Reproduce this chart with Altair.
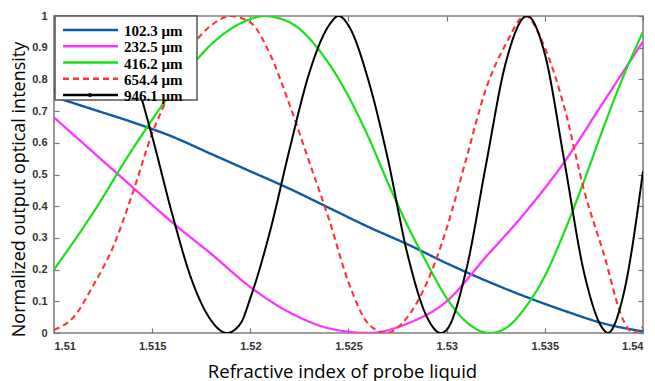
import altair as alt
import pandas as pd

# ---- data ----
labels = ["102.3 μm", "232.5 μm", "416.2 μm", "654.4 μm", "946.1 μm"]
colors = ["#0b5aa6", "#ff33ff", "#19e019", "#ff3333", "#000000"]
dashes = [[1, 0], [1, 0], [1, 0], [6, 4], [1, 0]]
widths = [2.4, 2.0, 2.2, 2.0, 2.8]

blue_x = [1.510, 1.512, 1.514, 1.516, 1.518, 1.520, 1.522, 1.524, 1.526, 1.528,
          1.530, 1.532, 1.534, 1.536, 1.538, 1.540]
blue_y = [0.745, 0.705, 0.665, 0.62, 0.565, 0.51, 0.455, 0.395, 0.335, 0.28,
          0.22, 0.165, 0.115, 0.07, 0.03, 0.005]

pink_x = [1.510, 1.512, 1.514, 1.516, 1.518, 1.520, 1.522, 1.524, 1.526, 1.528,
          1.530, 1.532, 1.534, 1.536, 1.538, 1.540]
pink_y = [0.68, 0.57, 0.46, 0.35, 0.25, 0.145, 0.065, 0.015, 0.0, 0.03,
          0.10, 0.24, 0.38, 0.54, 0.73, 0.92]

green_x = [1.510, 1.512, 1.514, 1.516, 1.518, 1.520, 1.5207, 1.522, 1.524, 1.526,
           1.527, 1.528, 1.529, 1.530, 1.531, 1.5322, 1.533, 1.534, 1.535, 1.536,
           1.537, 1.538, 1.539, 1.540]
green_y = [0.20, 0.38, 0.58, 0.76, 0.91, 0.99, 1.0, 0.98, 0.85, 0.62,
           0.475, 0.34, 0.22, 0.11, 0.035, 0.0, 0.015, 0.08, 0.18, 0.32,
           0.48, 0.65, 0.81, 0.95]

red_x = [1.510, 1.511, 1.512, 1.513, 1.514, 1.515, 1.516, 1.517, 1.518, 1.519,
         1.520, 1.521, 1.522, 1.523, 1.524, 1.525, 1.526, 1.5269, 1.528, 1.529,
         1.530, 1.531, 1.532, 1.533, 1.534, 1.535, 1.536, 1.537, 1.538, 1.539,
         1.5395, 1.540]
red_y = [0.01, 0.05, 0.15, 0.27, 0.44, 0.63, 0.77, 0.90, 0.97, 1.0,
         0.98, 0.88, 0.72, 0.54, 0.36, 0.16, 0.03, 0.0, 0.05, 0.16,
         0.33, 0.55, 0.77, 0.91, 1.0, 0.90, 0.71, 0.45, 0.25, 0.04,
         0.0, 0.02]

black_x = [1.5100, 1.5110, 1.5122, 1.5130, 1.5140, 1.5150, 1.5160, 1.5170, 1.5180, 1.5188,
           1.5195, 1.5200, 1.5210, 1.5220, 1.5230, 1.5240, 1.5245, 1.5250, 1.5260, 1.5270,
           1.5280, 1.5290, 1.5297, 1.5300, 1.5310, 1.5320, 1.5330, 1.5341, 1.5350, 1.5360,
           1.5370, 1.5380, 1.5382, 1.5390, 1.5400]
black_y = [0.76, 0.92, 1.00, 0.96, 0.83, 0.62, 0.38, 0.17, 0.04, 0.00,
           0.03, 0.11, 0.32, 0.58, 0.82, 0.97, 1.00, 0.97, 0.80, 0.55,
           0.25, 0.05, 0.00, 0.01, 0.20, 0.53, 0.85, 1.00, 0.88, 0.54,
           0.19, 0.01, 0.00, 0.12, 0.51]

x_ticks = [1.51, 1.515, 1.52, 1.525, 1.53, 1.535, 1.54]
y_ticks = [0, 0.1, 0.2, 0.3, 0.4, 0.5, 0.6, 0.7, 0.8, 0.9, 1]

series = [(blue_x, blue_y), (pink_x, pink_y), (green_x, green_y), (red_x, red_y), (black_x, black_y)]
rows = []
for lab, (xs, ys) in zip(labels, series):
    for i, (xv, yv) in enumerate(zip(xs, ys)):
        rows.append({"n": xv, "I": yv, "s": lab, "o": i})
df = pd.DataFrame(rows)

xscale = alt.Scale(domain=[1.51, 1.54], nice=False, zero=False)
yscale = alt.Scale(domain=[0, 1], nice=False, zero=False)

tick_col = "#777777"
lab_col = "#333333"

lines = alt.Chart(df).mark_line(interpolate="monotone", clip=True).encode(
    x=alt.X("n:Q", scale=xscale,
            axis=alt.Axis(orient="bottom", values=x_ticks, format=".3~f", offset=-5, tickSize=5,
                          domain=False, grid=False, tickColor=tick_col, tickWidth=1.2,
                          labelFont="Liberation Sans", labelFontWeight="bold", labelFontSize=11,
                          labelColor=lab_col, labelPadding=7,
                          title="Refractive index of probe liquid", titleFont="Open Sans",
                          titleFontSize=18.5, titleFontWeight="normal", titleColor="#000000",
                          titlePadding=11, titleX=288)),
    y=alt.Y("I:Q", scale=yscale,
            axis=alt.Axis(orient="left", values=y_ticks, format=".1~f", offset=-5, tickSize=5,
                          domain=False, grid=False, tickColor=tick_col, tickWidth=1.2,
                          labelFont="Liberation Sans", labelFontWeight="bold", labelFontSize=11,
                          labelColor=lab_col, labelPadding=7,
                          title="Normalized output optical intensity", titleFont="Open Sans",
                          titleFontSize=18, titleFontWeight="normal", titleColor="#000000",
                          titlePadding=3, titleY=173)),
    color=alt.Color("s:N", scale=alt.Scale(domain=labels, range=colors), legend=None),
    strokeDash=alt.StrokeDash("s:N", scale=alt.Scale(domain=labels, range=dashes), legend=None),
    strokeWidth=alt.StrokeWidth("s:N", scale=alt.Scale(domain=labels, range=widths), legend=None),
    order="o:O",
)

frame_ticks = alt.Chart(df).mark_line(opacity=0).encode(
    x=alt.X("n:Q", scale=xscale,
            axis=alt.Axis(orient="top", values=x_ticks, labels=False, offset=-5, tickSize=5,
                          domain=False, grid=False, tickColor=tick_col, tickWidth=1.2, title=None)),
    y=alt.Y("I:Q", scale=yscale,
            axis=alt.Axis(orient="right", values=y_ticks, labels=False, offset=-5, tickSize=5,
                          domain=False, grid=False, tickColor=tick_col, tickWidth=1.2, title=None)),
    detail="s:N",
)

# ---- hand-built legend box (top-left, inside the plot) ----
one = pd.DataFrame({"k": [0]})
legend_layers = [
    alt.Chart(one).mark_rect(fill="#ffffff", stroke="#555555", strokeWidth=1.5).encode(
        x=alt.value(1), x2=alt.value(143), y=alt.value(0), y2=alt.value(84))
]
row_y = [14, 30.25, 46.5, 62.75, 79]
for lab, col, dash, yy in zip(labels, colors, dashes, row_y):
    legend_layers.append(
        alt.Chart(one).mark_rule(color=col, strokeWidth=2.5, strokeDash=dash).encode(
            x=alt.value(9), x2=alt.value(64), y=alt.value(yy)))
    legend_layers.append(
        alt.Chart(one).mark_text(text=lab, align="left", baseline="middle", font="Liberation Serif",
                                 fontWeight="bold", fontSize=15, color="#000000").encode(
            x=alt.value(70), y=alt.value(yy + 1)))
legend_layers.append(
    alt.Chart(one).mark_point(filled=True, color="#000000", size=18, opacity=1).encode(
        x=alt.value(36), y=alt.value(row_y[-1])))

chart = alt.layer(frame_ticks, lines, *legend_layers).resolve_axis(
    x="independent", y="independent"
).properties(
    width=589, height=317,
    autosize=alt.AutoSizeParams(type="none"),
    padding={"left": 54, "top": 16, "right": 12, "bottom": 48},
).configure_view(
    stroke="#808080", strokeWidth=1.6
)

chart.save("out.html", embed_options={"renderer": "svg", "actions": False})
